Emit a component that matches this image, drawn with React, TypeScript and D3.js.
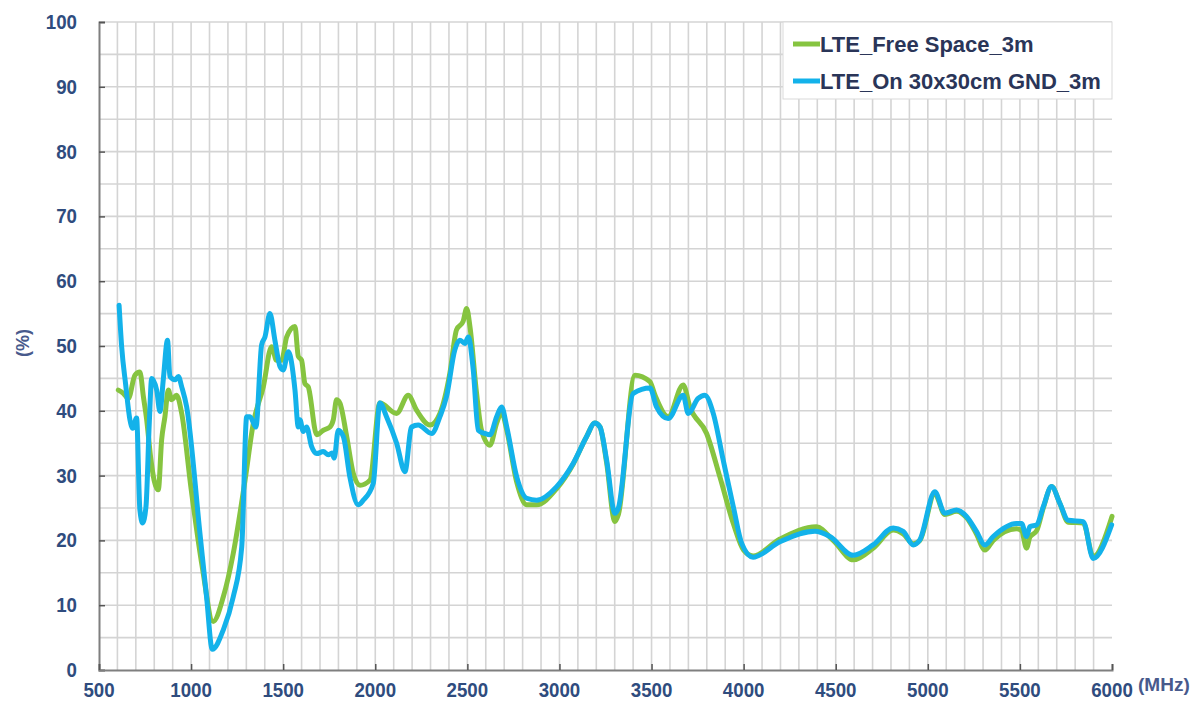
import React, { useEffect, useRef } from 'react';
import * as d3 from 'd3';

// Efficiency (%) vs frequency (MHz)
const freeSpace: [number, number][] = [
  [605, 43.2], [632, 42.7], [659, 41.9], [695, 45.5], [722, 46], [741, 42.2], [759, 38.6],
  [780, 32.9], [799, 29.3], [822, 27.8], [840, 35.5], [858, 39.1], [876, 43.2], [894, 41.7],
  [921, 42.4], [949, 39.6], [1000, 28], [1060, 16], [1120, 7.5], [1175, 11.3], [1229, 18],
  [1293, 29.3], [1338, 38.1], [1392, 43.7], [1437, 49.9], [1464, 47.8], [1492, 47.8],
  [1519, 51.4], [1564, 53], [1582, 48.4], [1600, 47.8], [1618, 44.2], [1636, 43.7],
  [1682, 36.3], [1718, 37], [1754, 37.5], [1772, 38.6], [1790, 41.7], [1808, 41.2],
  [1845, 36], [1881, 30.3], [1917, 28.5], [1971, 29.3], [2025, 41.2], [2116, 39.6],
  [2179, 42.4], [2224, 40.1], [2297, 37.8], [2351, 39.6], [2405, 45.8], [2441, 52.5],
  [2477, 53.8], [2496, 55.8], [2514, 53], [2550, 42.7], [2577, 37], [2623, 34.7],
  [2659, 38.1], [2686, 39.8], [2714, 37], [2768, 29], [2822, 25.5], [2876, 25.5],
  [2985, 28], [3075, 31.8], [3147, 36], [3192, 38.1], [3220, 37.5], [3256, 32],
  [3301, 22.9], [3320, 24], [3410, 45.5], [3491, 44.5], [3519, 42.4], [3590, 39.1],
  [3672, 44], [3708, 40.6], [3799, 36.5], [3871, 29.8], [3944, 22.6], [4000, 18.5],
  [4051, 17.6], [4197, 20.2], [4395, 22.1], [4486, 20], [4595, 17], [4703, 18.8],
  [4812, 21.6], [4866, 21], [4921, 19.5], [4957, 20], [5038, 27.2], [5092, 24],
  [5156, 24.5], [5210, 23.5], [5264, 21], [5310, 18.5], [5355, 20], [5481, 21.8],
  [5509, 21.5], [5536, 18.8], [5554, 20.5], [5591, 21.5], [5627, 25], [5672, 28.3],
  [5717, 25.7], [5762, 22.8], [5844, 22.7], [5898, 17.5], [6000, 23.7],
];

const onGnd: [number, number][] = [
  [609, 56.3], [623, 49.9], [645, 44], [668, 38.6], [683, 37.3], [704, 38.9], [722, 24.7],
  [737, 22.7], [755, 25.2], [773, 38.1], [786, 45], [813, 43.2], [831, 39.9], [849, 44.8],
  [872, 50.9], [885, 45.3], [913, 44.8], [931, 45.3], [949, 43.7], [976, 40.6], [1048, 21.1],
  [1084, 11.3], [1115, 3.2], [1175, 6.2], [1229, 11.3], [1275, 19], [1302, 39.1],
  [1320, 39.1], [1352, 37.5], [1383, 50.2], [1401, 51.4], [1428, 55], [1455, 50.9],
  [1483, 46.8], [1500, 46.3], [1528, 49.1], [1537, 48.6], [1564, 43.2], [1582, 37.5],
  [1591, 38.6], [1609, 36.8], [1627, 37.5], [1654, 34.5], [1682, 33.4], [1718, 33.7],
  [1745, 33.2], [1765, 33.5], [1777, 32.7], [1799, 37], [1827, 36], [1862, 29.8],
  [1907, 25.5], [1935, 26.2], [1989, 28.8], [2025, 41.2], [2061, 39.1], [2116, 35],
  [2161, 30.6], [2197, 37.5], [2233, 37.8], [2306, 36.5], [2351, 39.1], [2387, 42.2],
  [2432, 49.4], [2459, 50.9], [2487, 50.4], [2505, 51.4], [2532, 46.3], [2559, 37],
  [2595, 36.5], [2623, 36.3], [2659, 39.1], [2686, 40.6], [2714, 37.5], [2768, 29.8],
  [2822, 26.5], [2876, 26.2], [2985, 28.3], [3075, 31.9], [3147, 36], [3192, 38.1],
  [3220, 37.5], [3256, 32.4], [3301, 24.2], [3320, 25], [3401, 42.7], [3492, 43.5],
  [3527, 40.6], [3590, 38.8], [3672, 42.4], [3699, 39.6], [3753, 41.9], [3789, 42.4],
  [3835, 39.6], [3889, 32.4], [3944, 25.2], [3990, 19.5], [4051, 17.4], [4197, 19.8],
  [4387, 21.4], [4468, 20.6], [4595, 17.7], [4703, 19.3], [4812, 21.9], [4866, 21.4],
  [4921, 19.3], [4957, 20.1], [5038, 27.5], [5092, 24.2], [5156, 24.7], [5210, 23.7],
  [5264, 21.4], [5310, 19.3], [5355, 20.6], [5481, 22.6], [5509, 22.6], [5536, 20.6],
  [5554, 22.1], [5591, 22.4], [5627, 25.2], [5672, 28.3], [5717, 25.7], [5762, 23.1],
  [5844, 22.9], [5898, 17.2], [5998, 22.4],
];

const xTicks = [500, 1000, 1500, 2000, 2500, 3000, 3500, 4000, 4500, 5000, 5500, 6000];
const yTicks = [0, 10, 20, 30, 40, 50, 60, 70, 80, 90, 100];
const seriesNames = ['LTE_Free Space_3m', 'LTE_On 30x30cm GND_3m'];
const seriesColors = ['#86c440', '#13b2ea'];

const W = 1200;
const H = 711;
const margin = { left: 99, right: 88, top: 22, bottom: 41 };
const FONT = "'Liberation Sans', Arial, sans-serif";
const DIGIT_W = 10.4; // tick labels are a bit condensed in the original

const App = () => {
  const ref = useRef<SVGSVGElement>(null);

  useEffect(() => {
    if (!ref.current) return;
    const svg = d3.select(ref.current);
    svg.selectAll('*').remove();

    const x = d3.scaleLinear().domain([500, 6000]).range([margin.left, W - margin.right]);
    const y = d3.scaleLinear().domain([0, 100]).range([H - margin.bottom, margin.top]);

    svg.append('rect').attr('width', W).attr('height', H).attr('fill', '#fff');

    // grid: every 100 MHz and every 5 %
    const grid = svg.append('g');
    grid.selectAll('line.v')
      .data(d3.range(600, 6000, 100))
      .join('line')
      .attr('x1', d => x(d)).attr('x2', d => x(d))
      .attr('y1', y(0)).attr('y2', y(100))
      .attr('stroke', '#d4d4d4').attr('stroke-width', 1.6);
    grid.selectAll('line.h')
      .data(d3.range(5, 101, 5))
      .join('line')
      .attr('x1', x(500)).attr('x2', x(6000))
      .attr('y1', d => y(d)).attr('y2', d => y(d))
      .attr('stroke', '#d4d4d4').attr('stroke-width', 1.6);

    // axes
    const yAxis = svg.append('g')
      .attr('transform', `translate(${margin.left},0)`)
      .call(d3.axisRight(y).tickValues(yTicks).tickSize(6).tickFormat(() => ''));
    yAxis.select('.domain').attr('stroke', '#7f7f7f').attr('stroke-width', 2);
    yAxis.selectAll('.tick line').attr('stroke', '#555').attr('stroke-width', 1.5);

    const xAxis = svg.append('g')
      .attr('transform', `translate(0,${H - margin.bottom})`)
      .call(d3.axisTop(x).tickValues(xTicks).tickSize(6).tickFormat(() => ''));
    xAxis.select('.domain').attr('stroke', '#7f7f7f').attr('stroke-width', 2);
    xAxis.selectAll('.tick line').attr('stroke', '#555').attr('stroke-width', 1.5);

    // tick labels
    svg.append('g').selectAll('text')
      .data(yTicks)
      .join('text')
      .attr('x', 77)
      .attr('y', d => y(d) + 7)
      .attr('text-anchor', 'end')
      .attr('textLength', d => String(d).length * DIGIT_W)
      .attr('lengthAdjust', 'spacingAndGlyphs')
      .style('font-family', FONT).style('font-weight', 'bold').style('font-size', '21px')
      .attr('fill', '#2f4c7e')
      .text(d => d);

    svg.append('g').selectAll('text')
      .data(xTicks)
      .join('text')
      .attr('x', d => x(d))
      .attr('y', 697)
      .attr('text-anchor', 'middle')
      .attr('textLength', d => String(d).length * DIGIT_W)
      .attr('lengthAdjust', 'spacingAndGlyphs')
      .style('font-family', FONT).style('font-weight', 'bold').style('font-size', '21px')
      .attr('fill', '#2f4c7e')
      .text(d => d);

    svg.append('text')
      .attr('x', 1138).attr('y', 691)
      .style('font-family', FONT).style('font-weight', 'bold').style('font-size', '19px')
      .attr('fill', '#485a8c')
      .text('(MHz)');

    svg.append('text')
      .attr('transform', `translate(29,343) rotate(-90)`)
      .attr('text-anchor', 'middle')
      .style('font-family', FONT).style('font-weight', 'bold').style('font-size', '18px')
      .attr('fill', '#485a8c')
      .text('(%)');

    // curves
    const line = d3.line<[number, number]>()
      .x(d => x(d[0]))
      .y(d => y(d[1]))
      .curve(d3.curveMonotoneX);

    [freeSpace, onGnd].forEach((s, i) => {
      svg.append('path')
        .datum(s)
        .attr('d', line)
        .attr('fill', 'none')
        .attr('stroke', seriesColors[i])
        .attr('stroke-width', 5)
        .attr('stroke-linejoin', 'round')
        .attr('stroke-linecap', 'round');
    });

    // legend
    const lg = svg.append('g');
    lg.append('rect')
      .attr('x', 783).attr('y', 22)
      .attr('width', x(6000) - 783).attr('height', 77)
      .attr('fill', '#fff').attr('stroke', '#d9d9d9').attr('stroke-width', 1);
    seriesNames.forEach((name, i) => {
      const cy = 44 + i * 37;
      lg.append('line')
        .attr('x1', 793).attr('x2', 820)
        .attr('y1', cy).attr('y2', cy)
        .attr('stroke', seriesColors[i]).attr('stroke-width', 5);
      lg.append('text')
        .attr('x', 820).attr('y', cy + 8)
        .style('font-family', FONT).style('font-weight', 'bold').style('font-size', '22px')
        .attr('fill', '#2a3558')
        .text(name);
    });
  }, []);

  return (
    <svg
      ref={ref}
      width={W}
      height={H}
      style={{ position: 'absolute', left: 0, top: 0, display: 'block' }}
    />
  );
};

export default App;
